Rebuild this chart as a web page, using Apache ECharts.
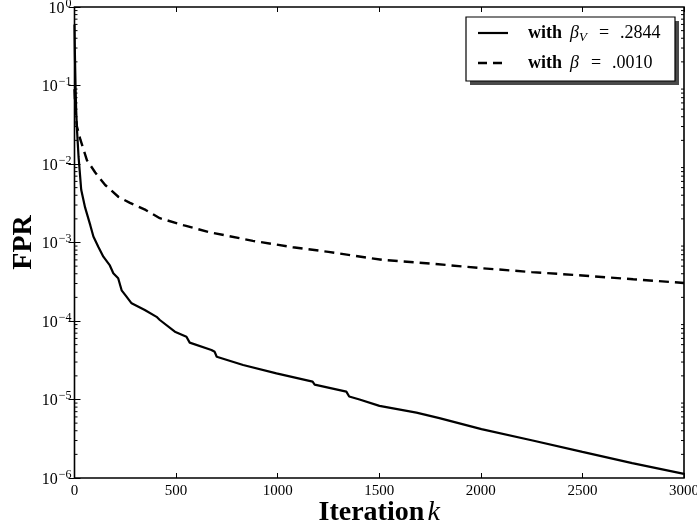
<!DOCTYPE html>
<html>
<head>
<meta charset="utf-8">
<script src="https://cdn.jsdelivr.net/npm/echarts@6/dist/echarts.min.js"></script>
<style>
html,body{margin:0;padding:0;background:#fff;}
#chart{width:697px;height:529px;}
</style>
</head>
<body>
<div id="chart"></div>
<script>
// ---- data ----
const xTicks = [0, 500, 1000, 1500, 2000, 2500, 3000];
const yTickExponents = [-6, -5, -4, -3, -2, -1, 0];
const seriesNames = ['with \u03b2V = .2844', 'with \u03b2 = .0010'];

const solidK = [0, 2, 5, 8, 12, 20, 33, 52, 78, 93, 117, 142, 174, 191, 215, 232, 256, 281, 346, 404, 420, 494, 551, 567, 674, 690, 700, 830, 994, 1172, 1182, 1338, 1352, 1403, 1501, 1683, 1796, 2003, 2255, 2500, 2745, 3000];
const solidV = [0.6, 0.25, 0.1, 0.05, 0.028, 0.0123, 0.0047, 0.0028, 0.00165, 0.00119, 0.000885, 0.00066, 0.00051, 0.000405, 0.00035, 0.000246, 0.000204, 0.000168, 0.000138, 0.000113, 0.000103, 0.000073, 0.000063, 0.000053, 0.0000427, 0.0000405, 0.000035, 0.0000275, 0.0000215, 0.0000169, 0.0000155, 0.0000126, 0.0000109, 0.0000100, 0.0000083, 0.0000068, 0.0000058, 0.0000042, 0.0000030, 0.00000215, 0.00000155, 0.00000113];

const dashK = [0, 5, 12, 29, 61, 102, 151, 217, 273, 350, 420, 540, 666, 878, 1075, 1250, 1516, 1750, 2007, 2250, 2499, 2750, 3000];
const dashV = [0.09, 0.045, 0.03, 0.0204, 0.0112, 0.0078, 0.0054, 0.0038, 0.0032, 0.0026, 0.00204, 0.00165, 0.00135, 0.00105, 0.00087, 0.00076, 0.0006, 0.00054, 0.00047, 0.00042, 0.00038, 0.00034, 0.000305];

// minor log ticks (2..9 x 10^e)
const minorTickValues = [];
for (let e = -6; e < 0; e++) for (let m = 2; m <= 9; m++) minorTickValues.push(m * Math.pow(10, e));

const serif = 'Liberation Serif';

const chart = echarts.init(document.getElementById('chart'), null, {renderer: 'canvas'});

function yLabel(v) {
  const e = Math.round(Math.log10(v));
  const s = e < 0 ? '\u2212' + (-e) : String(e);
  return '{a|10}{s|' + s + '}';
}

const legendRich = {
  b: {fontFamily: serif, fontWeight: 'bold', fontSize: 18, fill: '#000', lineHeight: 22, verticalAlign: 'middle'},
  sp1: {width: 8, lineHeight: 22},
  sp2: {width: 12, lineHeight: 22},
  sp3: {width: 11, lineHeight: 22},
  m: {fontFamily: serif, fontStyle: 'italic', fontSize: 18, fill: '#000', lineHeight: 22, verticalAlign: 'middle'},
  sub: {fontFamily: serif, fontStyle: 'italic', fontSize: 13, fill: '#000', lineHeight: 13, verticalAlign: 'bottom'},
  n: {fontFamily: serif, fontSize: 18, fill: '#000', lineHeight: 22, verticalAlign: 'middle'}
};

const option = {
  animation: false,
  backgroundColor: '#fff',
  grid: {
    left: 74.5, top: 7, right: 13, bottom: 51,
    show: true, borderColor: '#000', borderWidth: 1.6, backgroundColor: 'transparent',
    containLabel: false, outerBoundsMode: 'none'
  },
  graphic: [
    {type: 'rect', shape: {x: 470, y: 21, width: 209, height: 64}, style: {fill: '#4a4a4a'}, z: 100},
    {type: 'rect', shape: {x: 466, y: 17, width: 209, height: 64}, style: {fill: '#fff', stroke: '#000', lineWidth: 1.2}, z: 101},
    {type: 'line', shape: {x1: 478, y1: 33, x2: 508, y2: 33}, style: {stroke: '#000', lineWidth: 2.2}, z: 102},
    {type: 'line', shape: {x1: 478, y1: 63, x2: 508, y2: 63}, style: {stroke: '#000', lineWidth: 2.4, lineDash: [9, 6]}, z: 102},
    {type: 'text', x: 528, y: 33, z: 102, style: {
      text: '{b|with}{sp1|}{m|\u03b2}{sub|V}{sp2|}{n|=}{sp3|}{n|.2844}',
      rich: legendRich, verticalAlign: 'middle', align: 'left', fill: '#000'}},
    {type: 'text', x: 528, y: 63, z: 102, style: {
      text: '{b|with}{sp1|}{m|\u03b2}{sp2|}{n|=}{sp3|}{n|.0010}',
      rich: legendRich, verticalAlign: 'middle', align: 'left', fill: '#000'}}
  ],
  xAxis: [
    {
      type: 'value', position: 'bottom', min: 0, max: 3000, interval: 500,
      axisLine: {show: false},
      axisTick: {show: true, inside: true, length: 5, lineStyle: {color: '#000', width: 1}},
      splitLine: {show: false},
      axisLabel: {color: '#000', fontFamily: serif, fontSize: 15, margin: 6, showMaxLabel: true, showMinLabel: true,
        formatter: function (v) { return String(v); }},
      name: '{b|Iteration} {i|k}',
      nameLocation: 'middle', nameGap: 21, nameMoveOverlap: false,
      nameTextStyle: {
        rich: {
          b: {fontFamily: serif, fontWeight: 'bold', fontSize: 28, color: '#000'},
          i: {fontFamily: serif, fontStyle: 'italic', fontSize: 28, color: '#000'}
        }
      }
    },
    {
      type: 'value', position: 'top', min: 0, max: 3000, interval: 500,
      axisLine: {show: false},
      axisTick: {show: true, inside: true, length: 5, lineStyle: {color: '#000', width: 1}},
      splitLine: {show: false},
      axisLabel: {show: false}
    }
  ],
  yAxis: [
    {
      type: 'log', logBase: 10, min: 1e-6, max: 1, splitNumber: 6, position: 'left',
      axisLine: {show: false},
      axisTick: {show: true, inside: true, length: 6, lineStyle: {color: '#000', width: 1}},
      minorTick: {show: false},
      splitLine: {show: false},
      axisLabel: {
        margin: 3, formatter: yLabel,
        rich: {
          a: {fontFamily: serif, fontSize: 16, color: '#000', lineHeight: 19, verticalAlign: 'bottom'},
          s: {fontFamily: serif, fontSize: 12, color: '#000', lineHeight: 12, padding: [0, 0, 7, 1], verticalAlign: 'bottom'}
        }
      },
      name: 'FPR', nameLocation: 'middle', nameRotate: 90, nameGap: 37, nameMoveOverlap: false,
      nameTextStyle: {fontFamily: serif, fontWeight: 'bold', fontSize: 28, color: '#000'}
    },
    {
      type: 'log', logBase: 10, min: 1e-6, max: 1, splitNumber: 6, position: 'right',
      axisLine: {show: false},
      axisTick: {show: true, inside: true, length: 6, lineStyle: {color: '#000', width: 1}},
      splitLine: {show: false},
      axisLabel: {show: false}
    }
  ],
  series: [
    {
      name: seriesNames[0], type: 'line', xAxisIndex: 0, yAxisIndex: 0,
      data: solidK.map((k, i) => [k, solidV[i]]),
      symbol: 'none', showSymbol: false, smooth: false,
      lineStyle: {color: '#000', width: 2.2, type: 'solid'},
      itemStyle: {color: '#000'}, z: 3
    },
    {
      name: seriesNames[1], type: 'line', xAxisIndex: 0, yAxisIndex: 0,
      data: dashK.map((k, i) => [k, dashV[i]]),
      symbol: 'none', showSymbol: false, smooth: false,
      lineStyle: {color: '#000', width: 2.4, type: [10, 6], cap: 'butt'},
      itemStyle: {color: '#000'}, z: 3
    },
    {
      name: 'minorTicks', type: 'custom', xAxisIndex: 0, yAxisIndex: 0,
      silent: true, clip: false,
      data: minorTickValues.map(v => [0, v]),
      encode: {x: 0, y: 1},
      renderItem: function (params, api) {
        const p = api.coord([0, api.value(1)]);
        const cs = params.coordSys;
        const y = p[1];
        return {
          type: 'group',
          children: [
            {type: 'line', shape: {x1: cs.x, y1: y, x2: cs.x + 3, y2: y}, style: {stroke: '#000', lineWidth: 1}},
            {type: 'line', shape: {x1: cs.x + cs.width - 3, y1: y, x2: cs.x + cs.width, y2: y}, style: {stroke: '#000', lineWidth: 1}}
          ]
        };
      },
      z: 4
    }
  ]
};
chart.setOption(option);
</script>
</body>
</html>
